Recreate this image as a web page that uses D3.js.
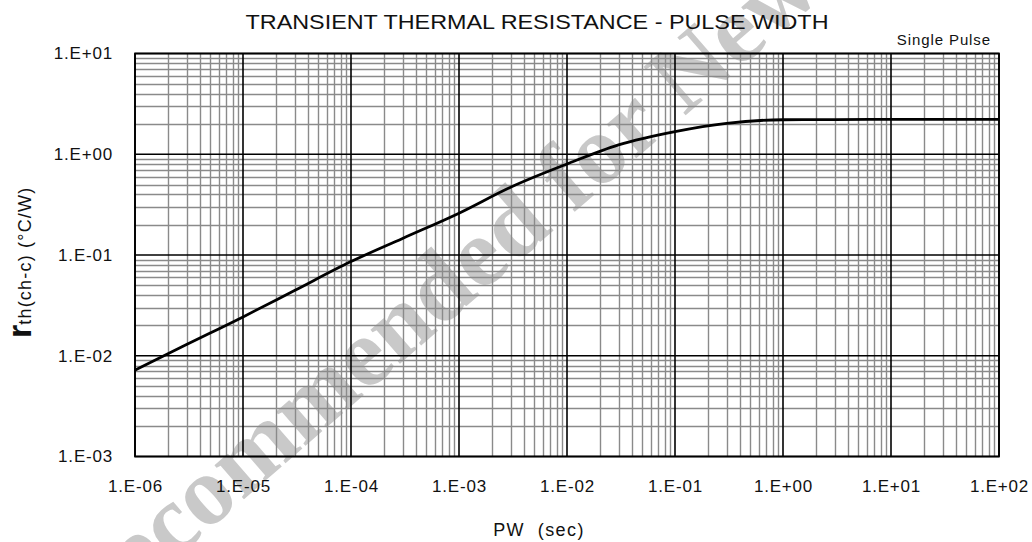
<!DOCTYPE html>
<html>
<head>
<meta charset="utf-8">
<script src="https://cdn.jsdelivr.net/npm/d3@7"></script>
<style>
  html, body { margin: 0; padding: 0; background: #fff; }
  svg { display: block; }
</style>
</head>
<body>
<svg id="chart" width="1032" height="542"></svg>
<script>
// transient thermal resistance vs pulse width (single pulse)
const pulseWidth = [1e-6, 3e-6, 1e-5, 3e-5, 1e-4, 3e-4, 1e-3, 3e-3, 1e-2, 3e-2, 1e-1, 3e-1, 1, 3, 10, 100];
const rth = [0.0072, 0.0129, 0.0243, 0.0444, 0.086, 0.146, 0.26, 0.47, 0.80, 1.24, 1.68, 2.03, 2.2, 2.21, 2.22, 2.22];

const xTicks = [1e-6, 1e-5, 1e-4, 1e-3, 1e-2, 1e-1, 1, 10, 100];
const xTickLabels = ["1.E-06", "1.E-05", "1.E-04", "1.E-03", "1.E-02", "1.E-01", "1.E+00", "1.E+01", "1.E+02"];
const yTicks = [1e-3, 1e-2, 1e-1, 1, 10];
const yTickLabels = ["1.E-03", "1.E-02", "1.E-01", "1.E+00", "1.E+01"];

const chartTitle = "TRANSIENT THERMAL RESISTANCE - PULSE WIDTH";
const noteText = "Single Pulse";
const xTitle = "PW  (sec)";
const watermark = "Not Recommended for New Design";

let svg = d3.select("#chart");
let plotLeft = 135, plotRight = 999, plotTop = 53.5, plotBottom = 456.5;
let labelFont = "'Liberation Sans', Arial, sans-serif";

let xScale = d3.scaleLog().domain([1e-6, 1e2]).range([plotLeft, plotRight]);
let yScale = d3.scaleLog().domain([1e-3, 1e1]).range([plotBottom, plotTop]);

// watermark sits under the grid
svg.append("text")
    .attr("transform", "translate(200,527) rotate(-41)")
    .attr("x", -335)
    .attr("y", 8)
    .text(watermark)
    .style("font-family", "'Liberation Serif', 'Times New Roman', serif")
    .style("font-weight", "bold")
    .style("font-size", "98px")
    .style("fill", "#c9c9c9");

// minor grid lines (2..9 in each decade)
let minorX = [], minorY = [];
xTicks.slice(0, -1).forEach(function(d) {
    for (let k = 2; k < 10; k++) minorX.push(d * k);
});
yTicks.slice(0, -1).forEach(function(d) {
    for (let k = 2; k < 10; k++) minorY.push(d * k);
});

svg.selectAll(".minorX")
    .data(minorX)
    .enter()
    .append("line")
    .attr("x1", d => Math.round(xScale(d)) + 0.5)
    .attr("x2", d => Math.round(xScale(d)) + 0.5)
    .attr("y1", plotTop)
    .attr("y2", plotBottom)
    .attr("stroke", "#8a8a8a")
    .attr("stroke-width", 1.4);

svg.selectAll(".minorY")
    .data(minorY)
    .enter()
    .append("line")
    .attr("x1", plotLeft)
    .attr("x2", plotRight)
    .attr("y1", d => Math.round(yScale(d)) + 0.5)
    .attr("y2", d => Math.round(yScale(d)) + 0.5)
    .attr("stroke", "#8a8a8a")
    .attr("stroke-width", 1.4);

// decade lines
svg.selectAll(".majorX")
    .data(xTicks)
    .enter()
    .append("line")
    .attr("x1", d => xScale(d))
    .attr("x2", d => xScale(d))
    .attr("y1", plotTop)
    .attr("y2", plotBottom)
    .attr("stroke", "#000")
    .attr("stroke-width", 1.6);

svg.selectAll(".majorY")
    .data(yTicks)
    .enter()
    .append("line")
    .attr("x1", plotLeft)
    .attr("x2", plotRight)
    .attr("y1", d => yScale(d))
    .attr("y2", d => yScale(d))
    .attr("stroke", "#000")
    .attr("stroke-width", 1.6);

svg.append("rect")
    .attr("x", plotLeft)
    .attr("y", plotTop)
    .attr("width", plotRight - plotLeft)
    .attr("height", plotBottom - plotTop)
    .attr("fill", "none")
    .attr("stroke", "#000")
    .attr("stroke-width", 1.8);

// the curve
let line = d3.line()
    .x((d, i) => xScale(pulseWidth[i]))
    .y(d => yScale(d))
    .curve(d3.curveMonotoneX);

svg.append("path")
    .datum(rth)
    .attr("d", line)
    .attr("fill", "none")
    .attr("stroke", "#000")
    .attr("stroke-width", 2.8)
    .style("stroke-linejoin", "round");

// axes (labels only)
let xAxis = svg.append("g")
    .attr("transform", "translate(0," + (plotBottom + 20) + ")")
    .call(d3.axisBottom(xScale).tickValues(xTicks).tickFormat((d, i) => xTickLabels[i]).tickSize(0));
xAxis.select("path").remove();
xAxis.selectAll("text")
    .style("font-family", labelFont)
    .style("font-size", "17px")
    .style("letter-spacing", "0.8px")
    .style("fill", "#111");

let yAxis = svg.append("g")
    .attr("transform", "translate(" + (plotLeft - 19) + ",0)")
    .call(d3.axisLeft(yScale).tickValues(yTicks).tickFormat((d, i) => yTickLabels[i]).tickSize(0));
yAxis.select("path").remove();
yAxis.selectAll("text")
    .style("font-family", labelFont)
    .style("font-size", "17px")
    .style("letter-spacing", "0.8px")
    .style("fill", "#111");

// titles
svg.append("text")
    .attr("x", 537)
    .attr("y", 29)
    .attr("text-anchor", "middle")
    .attr("textLength", 583)
    .attr("lengthAdjust", "spacingAndGlyphs")
    .text(chartTitle)
    .style("font-family", labelFont)
    .style("font-size", "21px")
    .style("fill", "#111");

svg.append("text")
    .attr("x", 991)
    .attr("y", 45)
    .attr("text-anchor", "end")
    .text(noteText)
    .style("font-family", labelFont)
    .style("font-size", "15px")
    .style("letter-spacing", "0.9px")
    .style("fill", "#111");

svg.append("text")
    .attr("x", 539)
    .attr("y", 536)
    .attr("text-anchor", "middle")
    .text(xTitle)
    .style("font-family", labelFont)
    .style("font-size", "18px")
    .style("letter-spacing", "1.4px")
    .style("white-space", "pre")
    .style("fill", "#111");

let yTitle = svg.append("text")
    .attr("transform", "translate(31,338) rotate(-90)")
    .style("font-family", labelFont)
    .style("fill", "#111");
yTitle.append("tspan")
    .text("r")
    .style("font-size", "34px")
    .style("font-weight", "bold");
yTitle.append("tspan")
    .text("th(ch-c) (°C/W)")
    .style("font-size", "18px")
    .style("letter-spacing", "1.2px");
</script>
</body>
</html>
